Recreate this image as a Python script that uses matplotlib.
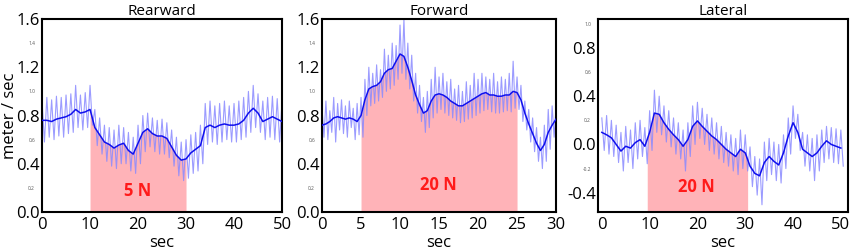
import numpy as np
import matplotlib
matplotlib.use("Agg")
from matplotlib import pyplot as plt

plt.rcParams['font.family'] = ['Open Sans', 'DejaVu Sans']

# ---- Rearward (1 s steps, 0..50) ----
rear_t = np.arange(0, 51, 1.0)
rear_mean = [0.76, 0.76, 0.75, 0.77, 0.78, 0.79, 0.81, 0.85, 0.82, 0.83, 0.85,
             0.70, 0.64, 0.58, 0.56, 0.53, 0.555, 0.57, 0.51, 0.48, 0.57,
             0.66, 0.69, 0.65, 0.63, 0.63, 0.61, 0.54, 0.47, 0.43, 0.44,
             0.49, 0.52, 0.55, 0.70, 0.72, 0.70, 0.72, 0.73, 0.72, 0.72,
             0.73, 0.76, 0.82, 0.86, 0.82, 0.75, 0.77, 0.79, 0.77, 0.75]
rear_hi = [0.92, 0.95, 0.93, 0.96, 0.95, 0.97, 0.98, 1.05, 0.97, 0.99, 1.05,
           0.85, 0.78, 0.72, 0.70, 0.68, 0.72, 0.70, 0.66, 0.62, 0.72,
           0.80, 0.82, 0.78, 0.76, 0.77, 0.74, 0.68, 0.62, 0.58, 0.60,
           0.64, 0.66, 0.72, 0.90, 0.92, 0.88, 0.90, 0.92, 0.88, 0.90,
           0.92, 0.95, 1.00, 1.05, 0.98, 0.92, 0.95, 0.96, 0.94, 0.92]
rear_lo = [0.58, 0.62, 0.60, 0.63, 0.62, 0.65, 0.66, 0.70, 0.68, 0.70, 0.72,
           0.55, 0.48, 0.42, 0.38, 0.36, 0.40, 0.40, 0.34, 0.32, 0.40,
           0.50, 0.54, 0.50, 0.48, 0.48, 0.45, 0.38, 0.30, 0.26, 0.28,
           0.32, 0.34, 0.40, 0.56, 0.58, 0.56, 0.58, 0.60, 0.58, 0.58,
           0.60, 0.62, 0.66, 0.70, 0.66, 0.60, 0.62, 0.60, 0.58, 0.56]

# ---- Forward (0.5 s steps, 0..30) ----
fwd_t = np.arange(0, 30.5, 0.5)
fwd_mean = [0.72, 0.73, 0.75, 0.78, 0.79, 0.78, 0.77, 0.78, 0.77, 0.75,
            0.80, 0.93, 1.02, 1.04, 1.05, 1.08, 1.15, 1.18, 1.19, 1.25,
            1.31, 1.29, 1.20, 1.09, 0.97, 0.89, 0.82, 0.84, 0.92, 0.97,
            0.98, 0.97, 0.95, 0.92, 0.90, 0.88, 0.88, 0.90, 0.92, 0.94,
            0.96, 0.98, 0.99, 0.97, 0.97, 0.96, 0.96, 0.97, 0.97, 1.00,
            0.99, 0.93, 0.82, 0.73, 0.65, 0.57, 0.51, 0.56, 0.66, 0.72, 0.77]
fwd_hi = [0.86, 0.92, 0.84, 0.95, 0.90, 0.93, 0.88, 0.92, 0.86, 0.90,
          0.95, 1.10, 1.20, 1.15, 1.22, 1.18, 1.35, 1.30, 1.40, 1.38,
          1.55, 1.60, 1.40, 1.30, 1.15, 1.05, 0.95, 1.00, 1.10, 1.20,
          1.12, 1.15, 1.08, 1.10, 1.02, 1.05, 1.00, 1.08, 1.05, 1.15,
          1.10, 1.15, 1.12, 1.10, 1.15, 1.08, 1.12, 1.10, 1.15, 1.25,
          1.12, 1.05, 0.92, 0.85, 0.78, 0.70, 0.62, 0.72, 0.85, 0.88, 0.86]
fwd_lo = [0.62, 0.60, 0.66, 0.58, 0.68, 0.65, 0.62, 0.70, 0.60, 0.64,
          0.62, 0.80, 0.88, 0.90, 0.92, 0.95, 1.00, 1.02, 1.05, 1.10,
          1.15, 1.10, 1.02, 0.92, 0.82, 0.75, 0.66, 0.70, 0.78, 0.82,
          0.85, 0.82, 0.80, 0.78, 0.76, 0.74, 0.75, 0.77, 0.78, 0.80,
          0.82, 0.84, 0.85, 0.83, 0.82, 0.82, 0.83, 0.84, 0.83, 0.86,
          0.85, 0.75, 0.68, 0.58, 0.50, 0.42, 0.36, 0.42, 0.52, 0.62, 0.68]

# ---- Lateral (1 s steps, 0..50) ----
lat_t = np.arange(0, 51, 1.0)
lat_mean = [0.10, 0.08, 0.055, 0.0, -0.055, -0.015, -0.03, 0.015, 0.04, -0.015, 0.10,
            0.26, 0.25, 0.18, 0.125, 0.08, 0.04, -0.015, 0.04, 0.15, 0.195,
            0.15, 0.11, 0.07, 0.04, 0.0, -0.04, -0.07, -0.10, -0.04, -0.07,
            -0.18, -0.24, -0.26, -0.15, -0.10, -0.14, -0.17, -0.07, 0.07, 0.18,
            0.10, -0.04, -0.07, -0.10, -0.07, -0.015, 0.03, 0.0, -0.015, -0.03]
lat_hi = [0.22, 0.24, 0.20, 0.16, 0.10, 0.15, 0.12, 0.18, 0.20, 0.14, 0.28,
          0.45, 0.40, 0.32, 0.28, 0.22, 0.18, 0.12, 0.18, 0.32, 0.35,
          0.30, 0.25, 0.22, 0.18, 0.15, 0.10, 0.08, 0.05, 0.12, 0.08,
          -0.02, -0.10, -0.12, 0.02, 0.05, 0.02, 0.00, 0.08, 0.22, 0.32,
          0.25, 0.10, 0.08, 0.05, 0.08, 0.12, 0.15, 0.14, 0.13, 0.12]
lat_lo = [-0.05, -0.08, -0.10, -0.15, -0.22, -0.15, -0.20, -0.12, -0.10, -0.16, -0.05,
          0.10, 0.08, 0.02, -0.02, -0.08, -0.12, -0.22, -0.10, 0.00, 0.05,
          0.00, -0.05, -0.08, -0.12, -0.15, -0.18, -0.22, -0.25, -0.20, -0.22,
          -0.35, -0.42, -0.50, -0.30, -0.25, -0.30, -0.32, -0.20, -0.08, 0.05,
          -0.05, -0.18, -0.22, -0.30, -0.22, -0.15, -0.12, -0.15, -0.16, -0.18]

titles = ["Rearward", "Forward", "Lateral"]
force_labels = ["5 N", "20 N", "20 N"]
force_label_pos = [(20, 0.17), (14.9, 0.22), (19.7, -0.35)]
fill_spans = [(10, 30), (5, 25), (9.5, 30.5)]
xlims = [(0, 50), (0, 30), (-0.8, 51.5)]
ylims = [(0, 1.6), (0, 1.6), (-0.56, 1.04)]
xticks = [[0, 10, 20, 30, 40, 50], [0, 5, 10, 15, 20, 25, 30], [0, 10, 20, 30, 40, 50]]
yticks = [[0.0, 0.4, 0.8, 1.2, 1.6], [0.0, 0.4, 0.8, 1.2, 1.6], [-0.4, 0.0, 0.4, 0.8]]
yticks_small = [[0.2, 0.6, 1.0, 1.4], [0.2, 0.6, 1.0, 1.4], [-0.2, 0.2, 0.6, 1.0]]

series = [(rear_t, rear_mean, rear_hi, rear_lo),
          (fwd_t, fwd_mean, fwd_hi, fwd_lo),
          (lat_t, lat_mean, lat_hi, lat_lo)]

fig = plt.figure(figsize=(8.51, 2.5), dpi=100)
boxes = [[0.0494, 0.152, 0.282, 0.772],
         [0.3784, 0.152, 0.275, 0.772],
         [0.7027, 0.152, 0.2938, 0.772]]

for i in range(3):
    ax = fig.add_axes(boxes[i])
    t, m, hi, lo = series[i]
    m = np.array(m)
    step = t[1] - t[0]
    # noisy trace: peak then trough
    nx = np.column_stack([t, t + step / 2]).ravel()
    ny = np.column_stack([hi, lo]).ravel()

    a, b = fill_spans[i]
    mask = (t > a) & (t < b)
    fx = np.concatenate([[a], t[mask], [b]])
    fy = np.concatenate([[np.interp(a, t, m)], m[mask], [np.interp(b, t, m)]])
    ax.fill_between(fx, fy, ylims[i][0], color='#ffb3b8', lw=0, zorder=1)

    ax.plot(nx, ny, color='#8a8aff', lw=0.8, alpha=0.85, zorder=2)
    ax.plot(t, m, color='#1010ee', lw=1.1, zorder=3)

    ax.text(force_label_pos[i][0], force_label_pos[i][1], force_labels[i],
            color='#ff1a1a', fontsize=12, fontweight='bold', ha='center', va='center', zorder=4)

    ax.set_xlim(*xlims[i])
    ax.set_ylim(*ylims[i])
    ax.set_xticks(xticks[i])
    ax.set_yticks(yticks[i])
    ax.set_yticklabels(["%.1f" % v for v in yticks[i]])
    ax.set_yticks(yticks_small[i], minor=True)
    ax.set_yticklabels(["%.1f" % v for v in yticks_small[i]], minor=True)
    ax.tick_params(axis='y', which='major', length=0, labelsize=12, pad=1.5)
    ax.tick_params(axis='x', which='major', length=0, labelsize=12, pad=3.5)
    ax.tick_params(axis='y', which='minor', length=0, labelsize=3.5, labelcolor='#555555', pad=5)
    for s in ax.spines.values():
        s.set_linewidth(1.5)
    ax.set_title(titles[i], fontsize=11, pad=2)
    ax.set_xlabel("sec", fontsize=12, labelpad=1.5)
    if i == 0:
        ax.set_ylabel("meter / sec", fontsize=12)
        ax.yaxis.set_label_coords(-0.10, 0.5)

fig.savefig("out.png", dpi=100)
